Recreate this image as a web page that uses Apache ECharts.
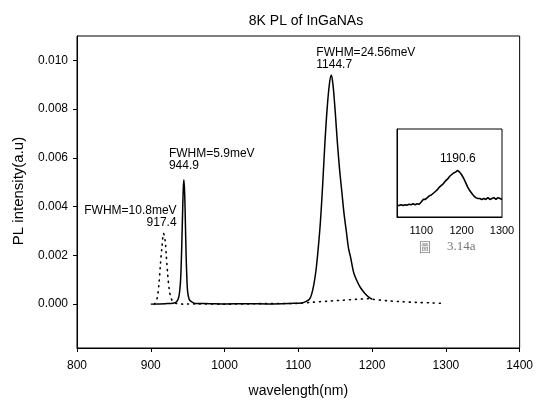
<!DOCTYPE html>
<html>
<head>
<meta charset="utf-8">
<title>8K PL of InGaNAs</title>
<script src="https://cdn.jsdelivr.net/npm/echarts@6/dist/echarts.min.js"></script>
<style>
    html, body { margin: 0; padding: 0; background: #fff; }
    #main { width: 536px; height: 403px; }
</style>
</head>
<body>
<div id="main"></div>
<script>
// 实线 (944.9 + 1144.7 峰)
let solidWl = [900, 920, 930, 935, 938, 940, 941, 942, 943, 944, 944.9, 946, 947, 948, 949, 950, 952, 955, 960, 980,
    1000, 1030, 1060, 1090, 1105, 1110, 1115, 1118, 1121, 1124, 1127, 1130, 1133, 1136, 1139, 1142, 1144.7,
    1147, 1150, 1153, 1156, 1159, 1162, 1165, 1168, 1171, 1175, 1180, 1185, 1190, 1195, 1200];
let solidVal = [0, 0.00002, 0.00004, 0.0001, 0.0003, 0.0008, 0.0014, 0.0024, 0.0036, 0.0047, 0.0051, 0.0045, 0.0032, 0.0019, 0.0010, 0.0005, 0.0002, 0.0001, 0.00003, 0.00002,
    0.00001, 0.00002, 0.00001, 0.00003, 0.00005, 0.0001, 0.0002, 0.0004, 0.0008, 0.0014, 0.0023, 0.0034, 0.0049, 0.0066, 0.0080, 0.0090, 0.0094,
    0.0090, 0.0079, 0.0066, 0.0055, 0.0046, 0.0037, 0.0030, 0.0023, 0.0019, 0.0013, 0.00092, 0.00064, 0.00045, 0.0003, 0.0002];

// 虚线 (917.4 峰 + 长波宽带)
let dotWl = [905, 907, 909, 911, 913, 915, 917.4, 919.5, 921, 923, 925, 927, 930, 935, 945, 960, 1000, 1050,
    1100, 1120, 1140, 1160, 1180, 1195, 1200, 1220, 1240, 1260, 1280, 1296];
let dotVal = [0, 0.0001, 0.0003, 0.0008, 0.0016, 0.0023, 0.0029, 0.0026, 0.0020, 0.0012, 0.0006, 0.0003, 0.0001, 0.00003, 0, 0.00001, 0, 0.00002,
    0.00003, 0.00008, 0.00012, 0.00016, 0.0002, 0.00022, 0.0002, 0.00014, 0.0001, 0.00007, 0.00005, 0.00003];

// 小图 (1190.6 峰)
let insetWl = [1040, 1045, 1050, 1055, 1060, 1065, 1070, 1075, 1080, 1085, 1090, 1095, 1100, 1105, 1110, 1115, 1120, 1125,
    1130, 1135, 1140, 1145, 1150, 1155, 1160, 1165, 1170, 1175, 1180, 1185, 1190, 1195, 1200, 1205, 1210, 1215,
    1220, 1225, 1230, 1235, 1240, 1245, 1250, 1255, 1260, 1265, 1270, 1275, 1280, 1285, 1290, 1295, 1300];
let insetVal = [0.13, 0.13, 0.14, 0.13, 0.14, 0.135, 0.145, 0.14, 0.15, 0.14, 0.15, 0.145, 0.17, 0.20, 0.20, 0.22, 0.24, 0.25,
    0.27, 0.29, 0.31, 0.34, 0.36, 0.38, 0.41, 0.43, 0.46, 0.48, 0.50, 0.51, 0.53, 0.51, 0.48, 0.44, 0.39, 0.34,
    0.30, 0.27, 0.24, 0.22, 0.21, 0.21, 0.20, 0.21, 0.20, 0.22, 0.20, 0.21, 0.22, 0.20, 0.22, 0.21, 0.20];

// 刻度
let yTicks = [0, 0.002, 0.004, 0.006, 0.008, 0.010];
let insetTicks = [1100, 1200, 1300];

// 峰标注
let peakWl = [917.4, 944.9, 1144.7];
let peakVal = [0.0029, 0.0051, 0.0094];
let peakNote = ['FWHM=10.8meV\n917.4', 'FWHM=5.9meV\n944.9', 'FWHM=24.56meV\n1144.7'];
let insetPeakWl = 1190.6;
let insetPeakVal = 0.53;

let font = '"Liberation Sans", Arial, sans-serif';
let zip = (a, b) => a.map((v, i) => [v, b[i]]);
let plain = (v) => String(v);

let chart = echarts.init(document.getElementById('main'));

let option = {
    backgroundColor: '#fff',
    animation: false,
    textStyle: { fontFamily: font, color: '#000' },
    title: {
        text: '8K PL of InGaNAs',
        left: 301,
        top: 9,
        textAlign: 'center',
        textStyle: { fontFamily: font, fontSize: 14, fontWeight: 'normal', color: '#000' }
    },
    grid: [
        { left: 77, right: 13, top: 36, bottom: 55, show: true, borderColor: '#000', borderWidth: 1 },
        { left: 397, right: 34, top: 129, bottom: 186, show: true, borderColor: '#000', borderWidth: 1, backgroundColor: '#fff' }
    ],
    xAxis: [
        {
            type: 'value', gridIndex: 0, min: 800, max: 1400, interval: 100,
            name: 'wavelength(nm)', nameLocation: 'middle', nameGap: 36,
            nameTextStyle: { fontFamily: font, fontSize: 14, color: '#000' },
            axisLine: { show: true, onZero: false, lineStyle: { color: '#000', width: 1 } },
            axisTick: { show: true, length: 4, lineStyle: { color: '#000' } },
            axisLabel: { fontFamily: font, fontSize: 12, color: '#000', margin: 12, formatter: plain },
            splitLine: { show: false }
        },
        {
            type: 'value', gridIndex: 1, min: 1040, max: 1300,
            axisLine: { show: true, onZero: false, lineStyle: { color: '#000', width: 1 } },
            axisTick: { show: false },
            axisLabel: { fontFamily: font, fontSize: 11, color: '#000', margin: 8, customValues: insetTicks, formatter: plain },
            splitLine: { show: false }
        }
    ],
    yAxis: [
        {
            type: 'value', gridIndex: 0, min: -0.0018, max: 0.011,
            axisLine: { show: true, onZero: false, lineStyle: { color: '#000', width: 1 } },
            axisTick: { show: true, length: 4, lineStyle: { color: '#000' }, customValues: yTicks },
            axisLabel: {
                fontFamily: font, fontSize: 12, color: '#000', margin: 9,
                customValues: yTicks,
                formatter: (v) => v.toFixed(3)
            },
            splitLine: { show: false }
        },
        {
            type: 'value', gridIndex: 1, min: 0, max: 1,
            axisLine: { show: true, onZero: false, lineStyle: { color: '#000' } },
            axisTick: { show: false },
            axisLabel: { show: false },
            splitLine: { show: false }
        }
    ],
    series: [
        {
            type: 'line', xAxisIndex: 0, yAxisIndex: 0, data: zip(dotWl, dotVal),
            showSymbol: false, smooth: 0.3,
            lineStyle: { color: '#000', width: 1.6, type: [1, 5], cap: 'round' }
        },
        {
            type: 'line', xAxisIndex: 0, yAxisIndex: 0, data: zip(solidWl, solidVal),
            showSymbol: false, smooth: 0.3,
            lineStyle: { color: '#000', width: 1.5 }
        },
        {
            type: 'line', xAxisIndex: 1, yAxisIndex: 1, data: zip(insetWl, insetVal),
            showSymbol: false,
            lineStyle: { color: '#000', width: 1.6 }
        }
    ]
};
chart.setOption(option);

// 标注文字跟着数据坐标走
let graphics = [];
peakWl.forEach((wl, i) => {
    let p = chart.convertToPixel({ gridIndex: 0 }, [wl, peakVal[i]]);
    let right = i === 0;
    let gap = [5, 8, 4][i];
    graphics.push({
        type: 'text',
        x: right ? p[0] + 13 : p[0] - 15,
        y: p[1] - gap,
        style: {
            text: peakNote[i], fontFamily: font, fontSize: 12, lineHeight: 12,
            fill: '#000', align: right ? 'right' : 'left', verticalAlign: 'bottom'
        }
    });
});
let ip = chart.convertToPixel({ gridIndex: 1 }, [insetPeakWl, insetPeakVal]);
graphics.push({
    type: 'text', x: ip[0], y: ip[1] - 6,
    style: { text: '1190.6', fontFamily: font, fontSize: 12, fill: '#000', align: 'center', verticalAlign: 'bottom' }
});
// y 轴名称
graphics.push({
    type: 'text', x: 19, y: 191, rotation: Math.PI / 2,
    style: { text: 'PL intensity(a.u)', fontFamily: font, fontSize: 15, fill: '#000', align: 'center', verticalAlign: 'middle' }
});
// 图号
graphics.push({
    type: 'text', x: 425, y: 247,
    style: { text: '圖', fontFamily: '"Noto Sans CJK TC"', fontSize: 12, fill: '#888', align: 'center', verticalAlign: 'middle' }
});
graphics.push({
    type: 'text', x: 447, y: 247,
    style: { text: '3.14a', fontFamily: '"Liberation Serif", serif', fontSize: 13, fill: '#777', align: 'left', verticalAlign: 'middle' }
});
chart.setOption({ graphic: graphics });
</script>
</body>
</html>
